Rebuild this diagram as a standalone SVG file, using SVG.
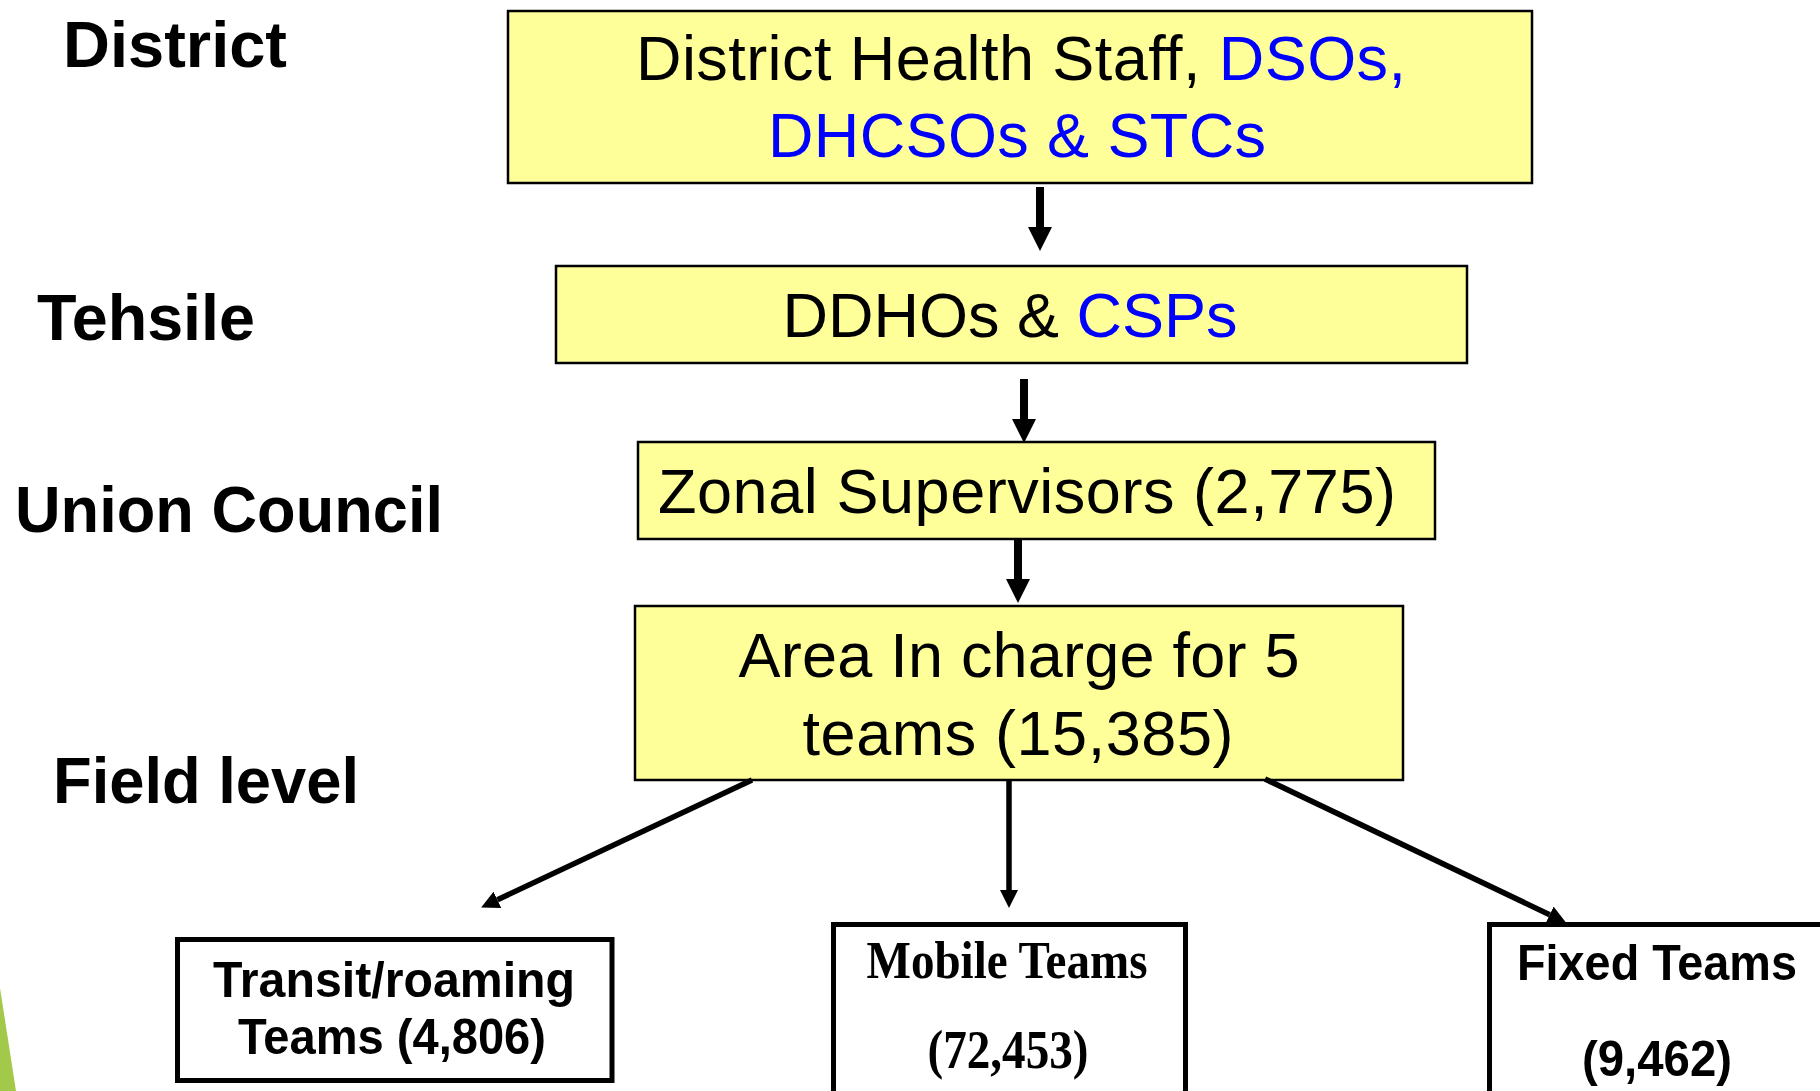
<svg xmlns="http://www.w3.org/2000/svg" width="1820" height="1091" viewBox="0 0 1820 1091">
<style>
.ybox{fill:#FFFF99;stroke:#000;stroke-width:2.5}
.wbox{fill:#fff;stroke:#000;stroke-width:5}
.t{font-family:"Liberation Sans",Arial,sans-serif;font-size:63px;fill:#000;text-anchor:middle}
.b{color:#0000FF;fill:#0000FF}
.lvl{font-family:"Liberation Sans",Arial,sans-serif;font-size:64px;font-weight:bold;fill:#000}
.tb{font-family:"Liberation Sans",Arial,sans-serif;font-size:50px;font-weight:bold;fill:#000;text-anchor:middle}
.tt{font-family:"Liberation Serif","Times New Roman",serif;font-weight:bold;fill:#000;text-anchor:middle}
.big{stroke:#000;stroke-width:8;fill:none}
.sm{stroke:#000;stroke-width:5.5;fill:none}
</style>
<defs>
<marker id="ah" markerUnits="userSpaceOnUse" markerWidth="24" markerHeight="24" viewBox="0 0 24 24" refX="0" refY="12" orient="auto">
<path d="M0,0 L24,12 L0,24 z" fill="#000"/>
</marker>
<marker id="as" markerUnits="userSpaceOnUse" markerWidth="18" markerHeight="18" viewBox="0 0 18 18" refX="0" refY="9" orient="auto">
<path d="M0,0 L18,9 L0,18 z" fill="#000"/>
</marker>
</defs>
<rect width="1820" height="1091" fill="#fff"/>
<polygon points="0,988 16,1091 0,1091" fill="#A2C94A"/>
<line x1="1636" y1="1091" x2="1820" y2="962" stroke="#C8C8C8" stroke-width="1.5"/>

<g id="levels">
<text class="lvl" x="63" y="67" textLength="224" lengthAdjust="spacingAndGlyphs">District</text>
<text class="lvl" x="37" y="340" textLength="218" lengthAdjust="spacingAndGlyphs">Tehsile</text>
<text class="lvl" x="15" y="532" textLength="428" lengthAdjust="spacingAndGlyphs">Union Council</text>
<text class="lvl" x="53" y="803" textLength="306" lengthAdjust="spacingAndGlyphs">Field level</text>
</g>

<g id="district">
<rect class="ybox" x="508" y="11" width="1024" height="172"/>
<text class="t" x="1021" y="80" textLength="770">District Health Staff, <tspan class="b">DSOs,</tspan></text>
<text class="t b" x="1017" y="157" textLength="498">DHCSOs &amp; STCs</text>
</g>

<g id="tehsile">
<rect class="ybox" x="556" y="266" width="911" height="97"/>
<text class="t" x="1010" y="337">DDHOs &amp; <tspan class="b">CSPs</tspan></text>
</g>

<g id="union">
<rect class="ybox" x="638" y="442" width="797" height="97"/>
<text class="t" x="1027" y="513" textLength="738">Zonal Supervisors  (2,775)</text>
</g>

<g id="area">
<rect class="ybox" x="635" y="606" width="768" height="174"/>
<text class="t" x="1019" y="677" textLength="561">Area In charge for 5</text>
<text class="t" x="1018" y="755" textLength="431">teams (15,385)</text>
</g>

<g id="transit">
<rect class="wbox" x="177.5" y="939.5" width="434.5" height="141"/>
<text class="tb" x="394" y="997" textLength="362" lengthAdjust="spacingAndGlyphs">Transit/roaming</text>
<text class="tb" x="392" y="1054" textLength="308" lengthAdjust="spacingAndGlyphs">Teams (4,806)</text>
</g>

<g id="mobile">
<rect class="wbox" x="833.5" y="924.5" width="352" height="220"/>
<text class="tt" x="1007" y="978" font-size="52" textLength="281" lengthAdjust="spacingAndGlyphs">Mobile Teams</text>
<text class="tt" x="1008" y="1068" font-size="54" textLength="161" lengthAdjust="spacingAndGlyphs">(72,453)</text>
</g>

<g id="fixed">
<rect class="wbox" x="1489.5" y="924.5" width="420" height="220"/>
<text class="tb" x="1657" y="980" textLength="280" lengthAdjust="spacingAndGlyphs">Fixed Teams</text>
<text class="tb" x="1657" y="1076" textLength="150" lengthAdjust="spacingAndGlyphs">(9,462)</text>
</g>

<g id="connectors">
<line class="big" x1="1040" y1="187" x2="1040" y2="227" marker-end="url(#ah)"/>
<line class="big" x1="1024" y1="379" x2="1024" y2="419" marker-end="url(#ah)"/>
<line class="big" x1="1018" y1="540" x2="1018" y2="579" marker-end="url(#ah)"/>
<line class="sm" x1="1009" y1="780" x2="1009" y2="890" marker-end="url(#as)"/>
<line class="sm" x1="752" y1="780" x2="497.4" y2="899.8" marker-end="url(#as)"/>
<line class="sm" x1="1265" y1="779" x2="1549.7" y2="914.7" marker-end="url(#as)"/>
</g>
</svg>
